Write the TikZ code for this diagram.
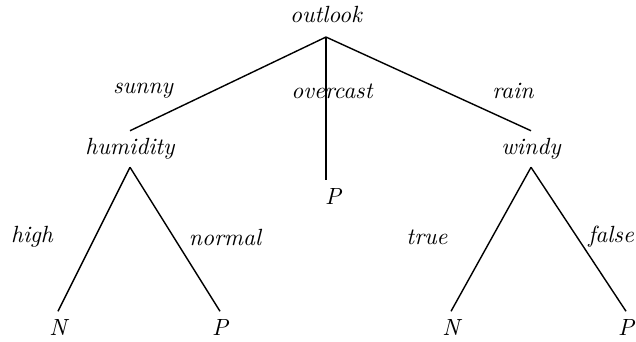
\documentclass[tikz,border=0pt]{standalone}
\usepackage{tikz}
\usetikzlibrary{positioning}

\begin{document}
\begin{tikzpicture}[x=0.15mm,y=-0.15mm,
      attr/.style={inner sep=3pt},
      leaf/.style={inner sep=3pt},
      val/.style={inner sep=1pt},
      every node/.style={font=\itshape},
      line width=0.6pt
]
\useasboundingbox (0,0) rectangle (636,341);
\node[attr,inner sep=6pt] (outlook) at (326,14) {outlook};
\node[attr] (humidity) at (130,149) {humidity};
\node[attr] (windy) at (531,149) {windy};
\node[leaf] (p0) at (333,196) {P};
\node[leaf] (n1) at (58,327) {N};
\node[leaf] (p1) at (220,327) {P};
\node[leaf] (n2) at (451,327) {N};
\node[leaf] (p2) at (626,327) {P};

\draw (outlook.south) -- (humidity.north);
\draw (outlook.south) -- (p0.north -| outlook.south);
\draw (outlook.south) -- (windy.north);
\foreach \parent/\child in {humidity/n1,humidity/p1,windy/n2,windy/p2} {
      \draw (\parent.south) -- (\child.north);
}
\node[val] (sunny) at (143,91) {sunny};
\node[val] (overcast) at (332,91) {overcast};
\node[val] (rain) at (513,91) {rain};
\node[val] (high) at (32,237) {high};
\node[val] (normal) at (225,237) {normal};
\node[val] (true) at (427,237) {true};
\node[val] (false) at (611,237) {false};
\end{tikzpicture}
\end{document}
